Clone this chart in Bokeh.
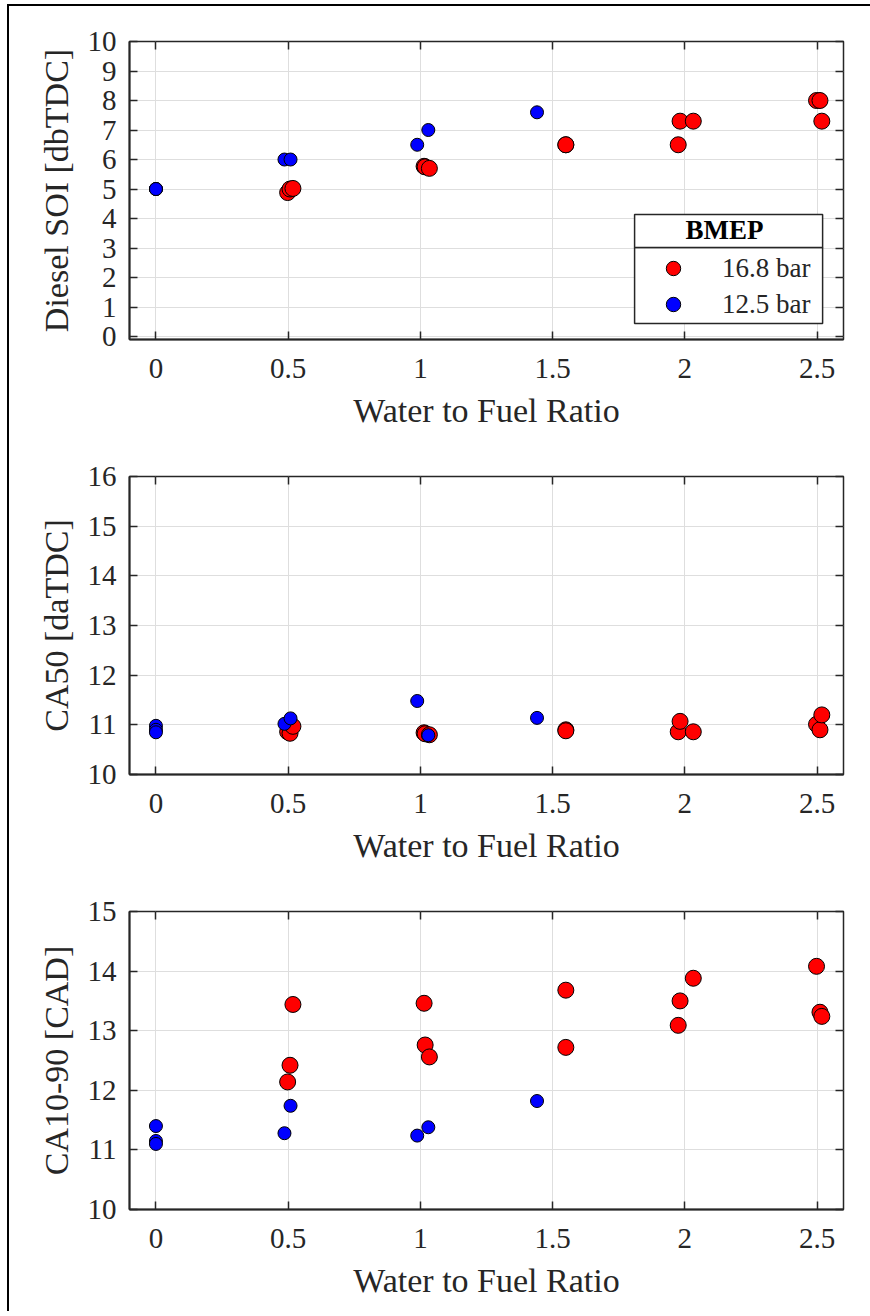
from bokeh.plotting import figure
from bokeh.models import (Range1d, FixedTicker, LinearAxis, BoxAnnotation, Label,
                          Legend, LegendItem)
from bokeh.layouts import column
from bokeh.embed import file_html
from bokeh.resources import INLINE

# ---------------- data ----------------
x_ticks = [0, 0.5, 1, 1.5, 2, 2.5]
x_tick_labels = ["0", "0.5", "1", "1.5", "2", "2.5"]

# water to fuel ratio of each test point
wfr_high = [0.498, 0.507, 0.518, 1.014, 1.018, 1.034, 1.55, 1.55,
            1.975, 1.982, 2.032, 2.498, 2.511, 2.518]          # BMEP 16.8 bar
wfr_low = [0.0, 0.0, 0.0, 0.486, 0.509, 0.988, 1.030, 1.441]   # BMEP 12.5 bar

soi_high = [4.88, 5.0, 5.02, 5.77, 5.75, 5.70, 6.5, 6.5, 6.5, 7.3, 7.3, 8.0, 8.0, 7.3]
soi_low = [5.0, 5.0, 5.0, 6.0, 6.0, 6.5, 7.0, 7.6]

ca50_high = [10.86, 10.83, 10.97, 10.84, 10.82, 10.80, 10.90, 10.88,
             10.86, 11.07, 10.86, 11.01, 10.90, 11.20]
ca50_low = [10.98, 10.90, 10.85, 11.02, 11.13, 11.48, 10.79, 11.14]

ca1090_high = [12.14, 12.42, 13.44, 13.46, 12.76, 12.56, 13.68, 12.72,
               13.09, 13.50, 13.88, 14.08, 13.31, 13.24]
ca1090_low = [11.40, 11.15, 11.10, 11.28, 11.74, 11.24, 11.38, 11.82]

soi_ticks = [0, 1, 2, 3, 4, 5, 6, 7, 8, 9, 10]
ca50_ticks = [10, 11, 12, 13, 14, 15, 16]
ca1090_ticks = [10, 11, 12, 13, 14, 15]

series_labels = ["16.8 bar", "12.5 bar"]
legend_title = "BMEP"
x_title = "Water to Fuel Ratio"

# ---------------- style ----------------
FONT = "Liberation Serif"
DARK = "#262626"
RED = "#ff0000"
BLUE = "#0000ff"
GRID = "#dedede"


def style_axis(ax, ticks, with_labels=True):
    ax.ticker = FixedTicker(ticks=ticks)
    ax.major_tick_in = 8
    ax.major_tick_out = 0
    ax.minor_tick_line_color = None
    ax.major_tick_line_color = DARK
    ax.major_tick_line_width = 1.5
    ax.major_label_text_font = FONT
    ax.major_label_text_font_size = "29px"
    ax.major_label_text_color = DARK if with_labels else None
    ax.axis_label_text_font = FONT
    ax.axis_label_text_font_size = "34px"
    ax.axis_label_text_font_style = "normal"
    ax.axis_label_text_color = DARK


def make_panel(ylabel, y_high, y_low, y_lo, y_hi, y_ticks):
    p = figure(width=861, height=435,
               x_range=Range1d(-0.1, 2.6), y_range=Range1d(y_lo, y_hi),
               output_backend="svg", toolbar_location=None,
               min_border_left=120, min_border_right=27,
               min_border_top=35, min_border_bottom=102,
               background_fill_color="white", border_fill_color="white")
    p.outline_line_color = DARK
    p.outline_line_width = 1.5

    xa = p.xaxis[0]
    ya = p.yaxis[0]
    style_axis(xa, x_ticks)
    style_axis(ya, y_ticks)
    xa.major_label_overrides = {t: s for t, s in zip(x_ticks, x_tick_labels)}
    xa.axis_label = x_title
    ya.axis_label = ylabel
    for ax in (xa, ya):
        ax.axis_line_width = 2
        ax.axis_line_color = DARK
    xa.major_label_standoff = 19
    xa.axis_label_standoff = 11
    ya.major_label_standoff = 13
    ya.axis_label_standoff = 10

    top = LinearAxis()
    style_axis(top, x_ticks, with_labels=False)
    top.axis_line_color = None
    top.major_label_standoff = 0
    p.add_layout(top, "above")
    right = LinearAxis()
    style_axis(right, y_ticks, with_labels=False)
    right.axis_line_color = None
    right.major_label_standoff = 0
    p.add_layout(right, "right")

    p.xgrid.ticker = FixedTicker(ticks=x_ticks)
    p.ygrid.ticker = FixedTicker(ticks=y_ticks)
    for g in (p.xgrid[0], p.ygrid[0]):
        g.grid_line_color = GRID
        g.grid_line_width = 1

    r_high = p.scatter(x=wfr_high, y=y_high, size=16, fill_color=RED,
                       line_color="black", line_width=1)
    r_low = p.scatter(x=wfr_low, y=y_low, size=13, fill_color=BLUE,
                      line_color="black", line_width=1)
    return p, r_high, r_low


p1, r1h, r1l = make_panel("Diesel SOI [dbTDC]", soi_high, soi_low, -0.1, 10, soi_ticks)
p2, _, _ = make_panel("CA50 [daTDC]", ca50_high, ca50_low, 10, 16, ca50_ticks)
p3, _, _ = make_panel("CA10-90 [CAD]", ca1090_high, ca1090_low, 10, 15, ca1090_ticks)

# ---------------- legend (panel 1) ----------------
LEG_LEFT, LEG_RIGHT = 1.81, 2.521
LEG_TOP, LEG_SEP, LEG_BOTTOM = 4.136, 3.017, 0.441
box_kw = dict(fill_color="white", fill_alpha=1, line_color=DARK, line_alpha=1, line_width=1.5)
p1.add_layout(BoxAnnotation(left=LEG_LEFT, right=LEG_RIGHT, top=LEG_SEP, bottom=LEG_BOTTOM, **box_kw))
p1.add_layout(BoxAnnotation(left=LEG_LEFT, right=LEG_RIGHT, top=LEG_TOP, bottom=LEG_SEP, **box_kw))
p1.add_layout(Label(x=2.15, y=3.6, text=legend_title,
                    text_align="center", text_baseline="middle", text_font=FONT,
                    text_font_style="bold", text_font_size="27px", text_color="black"))
legend = Legend(items=[LegendItem(label=series_labels[0], renderers=[r1h]),
                       LegendItem(label=series_labels[1], renderers=[r1l])],
                location=(526, 17), glyph_width=36, glyph_height=36, label_height=36,
                label_standoff=31, spacing=0, padding=0, margin=0,
                border_line_color=None, background_fill_alpha=0,
                label_text_font=FONT, label_text_font_size="27px", label_text_color=DARK)
p1.add_layout(legend)

layout = column(p1, p2, p3, spacing=0, margin=(4, 0, 0, 7),
                styles={"border-left": "2px solid #000", "border-top": "2px solid #000"})

open("out.html", "w").write(file_html(layout, INLINE))
